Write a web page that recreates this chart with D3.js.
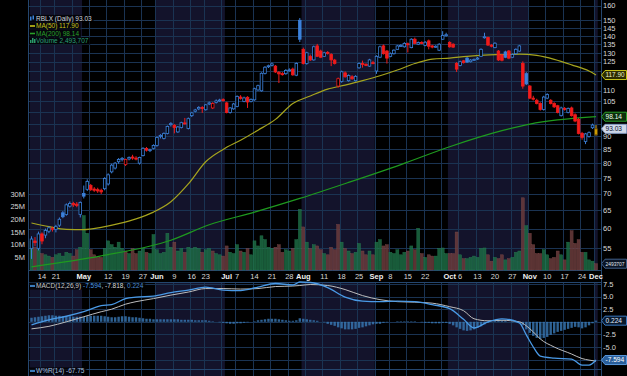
<!DOCTYPE html>
<html>
<head>
<meta charset="utf-8">
<script src="https://cdn.jsdelivr.net/npm/d3@7"></script>
<style>
  body { margin: 0; background: #000; }
  svg { display: block; }
  text { font-family: "Liberation Sans", Arial, sans-serif; }
</style>
</head>
<body>
<svg id="chart" width="627" height="376"></svg>
<script>
// ---- data (RBLX daily, 9 Apr 2025 .. 1 Dec 2025) ----
const firstDate = "2025-04-09"
const holidays = ["2025-04-18", "2025-05-26", "2025-06-19", "2025-07-04", "2025-09-01", "2025-11-27"]

const open = [55.0,56.8,55.0,58.6,58.3,59.3,59.8,59.8,60.9,64.3,63.8,66.2,67.0,66.8,63.8,70.0,71.3,72.5,71.4,71.2,
  71.0,71.5,73.0,77.0,78.3,80.5,81.3,79.5,81.5,82.2,81.8,80.0,82.7,85.3,84.6,85.4,86.5,90.0,89.2,91.2,
  94.8,94.5,91.8,93.6,95.5,93.2,98.6,100.5,101.6,102.2,101.2,103.8,102.0,104.5,105.3,105.8,104.3,100.0,101.6,102.7,
  107.0,105.0,106.9,105.0,105.7,110.4,110.0,118.7,122.3,123.0,122.6,119.2,118.6,118.6,120.3,121.0,117.8,150.0,132.0,124.0,
  128.0,126.0,134.0,131.0,128.0,130.2,129.0,125.9,112.3,114.6,119.0,115.0,117.0,115.0,121.7,124.0,123.5,122.6,124.5,120.0,
  127.5,134.0,131.0,128.0,129.5,132.0,134.0,133.5,135.3,133.0,138.0,135.0,136.0,134.3,137.0,134.0,133.3,131.5,138.0,140.2,
  136.0,135.0,124.0,123.0,125.5,127.0,125.0,126.0,126.5,128.0,139.0,139.0,134.5,133.0,131.0,128.8,130.5,131.0,127.5,129.5,
  131.0,124.0,118.6,112.3,106.5,105.5,104.0,101.3,106.5,105.5,104.0,103.0,98.6,101.8,100.0,102.0,99.0,97.0,91.2,88.0,
  90.0,93.5,90.6]
const high = [58.0,57.8,59.2,59.0,60.0,60.6,60.5,61.0,63.0,64.8,67.0,67.6,67.5,67.4,67.6,72.5,74.5,73.0,72.0,71.8,
  71.5,75.2,76.5,79.8,80.4,81.8,82.2,81.6,82.4,83.0,82.5,82.3,85.8,85.9,85.3,86.9,90.0,90.9,91.6,94.4,
  95.8,95.0,94.2,96.0,97.6,97.8,100.3,101.6,102.8,102.8,103.8,104.9,104.6,105.9,106.2,106.4,104.8,102.4,104.3,107.8,
  107.9,107.2,107.4,106.4,111.5,113.0,119.3,122.6,123.4,124.5,123.2,120.0,119.4,121.0,121.4,121.8,124.6,151.5,133.0,130.6,
  129.0,134.2,135.2,131.8,130.6,131.0,129.8,126.6,116.6,120.2,119.8,118.2,117.8,117.8,124.6,125.6,124.2,126.6,125.5,128.6,
  134.2,134.8,131.6,130.2,132.0,134.6,135.0,136.2,136.0,138.6,139.0,136.6,136.8,136.8,137.8,134.6,134.4,135.6,143.0,142.0,
  136.8,135.6,124.8,125.6,126.0,127.6,126.4,126.8,127.6,132.6,142.0,139.6,135.0,136.2,131.6,129.4,131.2,131.6,129.6,132.6,
  134.6,125.2,119.4,112.8,107.6,106.2,104.6,107.6,108.8,106.0,104.6,103.4,102.6,102.4,102.2,102.6,99.6,97.6,91.8,91.4,
  92.0,95.2,94.6]
const low = [52.5,55.5,54.5,56.0,57.5,58.8,59.2,59.0,60.4,62.8,63.5,65.8,66.0,65.9,63.0,68.5,70.8,70.8,70.5,70.2,
  69.8,71.0,72.5,76.5,77.8,79.8,80.6,79.0,81.0,81.2,81.0,79.5,82.4,84.2,84.0,85.0,86.0,89.2,88.8,90.8,
  94.0,91.2,91.4,93.2,94.8,92.8,98.0,100.0,101.0,99.8,100.8,103.3,101.5,104.0,104.8,104.9,99.6,99.5,101.2,102.3,
  105.8,104.6,102.0,104.5,105.3,110.0,109.6,118.2,121.6,122.4,119.0,113.8,117.6,118.0,119.8,117.5,117.3,136.3,123.5,123.4,
  125.4,125.6,127.6,127.0,127.6,129.0,122.6,123.5,111.5,114.0,116.5,114.5,115.4,114.6,121.2,121.8,122.6,122.2,123.6,118.5,
  127.0,129.0,124.0,127.5,129.0,131.6,133.4,133.0,130.2,132.6,135.0,134.5,135.0,133.8,132.0,132.6,132.8,131.0,137.5,139.6,
  133.0,132.8,119.5,122.5,124.0,124.4,124.6,125.5,126.0,127.6,138.4,134.0,133.2,132.6,125.4,125.2,127.0,126.4,127.0,129.0,
  130.6,111.0,112.8,106.0,105.4,103.6,100.8,100.8,106.0,103.6,102.0,99.6,98.2,100.8,99.6,98.2,95.8,90.8,88.7,87.0,
  89.5,93.0,90.3]
const close = [57.3,56.4,58.6,56.8,59.5,60.2,60.0,60.5,62.5,63.2,66.6,67.0,66.6,66.4,67.3,69.2,73.8,71.2,71.0,70.8,
  70.5,74.8,76.0,79.3,80.0,81.3,81.7,81.3,82.0,81.8,81.6,82.0,85.4,84.7,84.9,86.5,89.6,90.4,91.2,94.0,
  95.2,93.6,93.8,95.6,95.2,97.3,99.8,101.1,102.2,101.8,103.4,104.3,104.0,105.2,105.6,105.3,100.0,102.0,103.8,107.3,
  106.4,106.6,104.7,105.9,111.0,112.5,118.8,122.0,122.8,123.8,119.5,118.5,118.3,120.3,120.6,118.0,124.0,138.0,124.0,130.0,
  126.0,133.5,128.0,127.5,130.0,129.7,126.0,124.0,116.0,119.6,117.0,117.6,116.0,117.2,124.0,123.5,123.2,126.0,124.0,128.0,
  133.5,129.5,127.0,129.5,131.5,134.0,134.3,135.5,134.7,138.0,135.5,136.0,135.5,136.2,133.8,133.3,133.8,135.0,140.3,140.8,
  133.5,133.3,121.0,125.0,124.5,124.8,125.9,126.3,127.0,132.0,139.5,134.5,133.8,135.6,126.0,125.8,127.5,127.0,129.0,132.0,
  134.0,112.3,113.4,106.5,106.0,104.0,101.3,107.0,108.2,104.0,102.5,100.0,102.0,101.5,101.8,98.6,96.3,91.2,89.6,91.0,
  91.5,94.6,93.03]
// volume, millions of shares
const volume = [11.5,9.0,8.0,6.5,6.0,5.5,5.0,6.0,6.5,5.5,7.0,6.5,5.5,8.0,9.0,21.5,14.5,8.0,6.0,5.0,
  5.0,8.5,11.5,10.0,9.0,11.0,8.5,7.5,6.5,8.5,6.5,7.5,8.5,7.0,6.5,14.0,8.0,6.5,7.0,14.5,
  9.0,11.0,7.5,8.5,7.0,9.0,8.5,9.0,8.5,7.0,8.0,8.5,7.5,6.5,6.0,5.5,9.5,7.0,6.5,10.0,
  7.5,7.0,8.5,6.0,11.5,9.5,13.5,12.0,9.0,8.5,9.0,10.0,7.0,8.0,7.5,8.5,12.0,24.0,17.0,11.0,
  8.5,10.0,9.5,8.0,6.5,6.0,9.0,8.0,18.0,11.0,8.5,7.5,6.5,7.0,10.5,7.5,6.0,7.5,6.0,11.0,
  12.0,9.5,10.0,7.0,6.5,8.0,6.0,7.0,7.5,9.5,8.0,16.5,6.5,5.0,6.0,5.5,5.5,8.5,8.7,6.5,
  6.5,6.5,15.0,6.0,4.5,4.5,5.0,5.5,5.0,8.5,8.7,6.0,3.5,5.0,4.5,6.0,4.0,4.5,5.0,7.0,
  7.5,28.5,17.5,14.5,10.0,6.5,6.5,8.0,6.0,4.5,5.0,7.5,6.0,4.0,11.0,15.5,10.5,12.0,7.0,7.0,
  4.0,3.5,2.49]

// moving averages, read at sample bars
const ma50Bars = [0,5,10,15,20,25,30,35,40,45,50,55,60,65,70,75,80,85,90,95,100,105,110,115,120,125,130,135,140,145,150,155,160,162]
const ma50 = [61.5,60.5,59.8,59.7,60.3,61.3,62.6,64.5,67.5,73.0,80.5,85.0,88.5,92.5,97.0,104.0,107.5,110.8,112.8,115.0,117.5,120.5,124.0,126.4,127.0,128.0,128.7,129.0,129.3,128.5,126.3,123.3,120.0,117.9]
const ma200Bars = [0,20,40,51,64,77,91,106,120,135,143,162]
const ma200 = [50.7,53.2,57.0,61.0,64.5,68.5,73.5,79.5,86.0,92.3,95.0,98.14]

// MACD(12,26,9)
const macdBars = [0,5,10,15,20,23,27,30,35,40,45,50,55,60,65,70,75,77,80,85,90,95,100,105,110,115,120,124,127,131,135,140,142,144,146,150,155,158,160,162]
const macdLine = [-0.6,0.4,1.1,2.0,3.2,3.4,4.6,4.9,5.1,5.8,6.3,6.9,6.3,6.2,6.9,7.6,7.3,7.9,7.8,6.8,4.9,4.1,4.0,4.1,4.0,3.4,2.6,0.5,-1.2,0.0,0.6,-0.2,-2.6,-5.0,-6.8,-7.2,-7.4,-8.6,-8.6,-7.594]
const signalLine = [-1.4,-0.9,0.0,1.0,2.0,2.5,3.5,4.0,4.6,5.3,5.9,6.6,6.6,6.5,6.6,7.0,7.1,7.2,7.4,7.2,6.4,5.2,4.4,4.0,3.9,3.7,3.0,2.2,0.6,0.2,0.3,0.0,-0.8,-2.0,-3.4,-5.0,-6.4,-7.3,-7.6,-7.818]
const macdHist = [0.8,0.9,1.0,1.1,1.2,1.3,1.3,1.2,1.2,1.1, 1.1,1.1,1.0,1.0,1.0,1.0,1.1,1.2,1.2,1.2,
  1.2,1.1,1.0,0.9,0.9,1.0,1.1,1.1,1.0,0.9, 0.9,0.8,0.7,0.6,0.6,0.5,0.5,0.5,0.5,0.5,
  0.5,0.5,0.5,0.4,0.4,0.4,0.4,0.3,0.3,0.3, 0.3,0.2,0.1,0.0,-0.1,-0.2,-0.3,-0.4,-0.4,-0.3,
  -0.3,-0.2,-0.1,0.0,0.1,0.3,0.4,0.5,0.6,0.6, 0.6,0.5,0.4,0.3,0.2,0.2,0.3,0.7,0.6,0.5,
  0.4,0.3,0.2,0.0,-0.1,-0.4,-0.6,-0.8,-1.1,-1.3, -1.5,-1.5,-1.5,-1.4,-1.2,-1.1,-0.9,-0.7,-0.5,-0.4,
  -0.4,-0.2,-0.1,0.0,0.0,0.1,0.1,0.1,0.1,0.1, 0.1,0.0,-0.1,-0.2,-0.2,-0.3,-0.3,-0.3,-0.2,-0.2,
  -0.4,-0.7,-1.1,-1.4,-1.7,-1.8,-1.7,-1.5,-1.2,-0.9, -0.5,-0.2,0.0,0.2,0.3,0.3,0.2,0.0,-0.1,-0.1,
  -0.2,-0.7,-1.5,-2.2,-2.8,-3.2,-3.4,-3.2,-3.0,-2.6, -2.3,-2.0,-1.8,-1.6,-1.4,-1.2,-1.0,-1.1,-1.3,-1.1,
  -0.7,-0.3,0.224]

const priceTicks = [55,60,65,70,75,80,85,90,95,100,105,110,115,120,125,130,135,140,145,150,160]
const volumeTicks = [5,10,15,20,25,30]
const macdTicks = [7.5,5.0,2.5,0,-2.5,-5.0,-7.5]
const monthNames = ["Jan","Feb","Mar","Apr","May","Jun","Jul","Aug","Sep","Oct","Nov","Dec"]

// ---- trading calendar ----
const dates = []
for (let d = new Date(firstDate + "T12:00:00Z"); dates.length < close.length; d.setUTCDate(d.getUTCDate() + 1)) {
  const wd = d.getUTCDay()
  if (wd === 0 || wd === 6 || holidays.includes(d.toISOString().slice(0, 10))) continue
  dates.push(new Date(d))
}

// ---- layout ----
const W = 627, L = 28, R = 601
const mainTop = 0, mainBottom = 270, axisBottom = 282, macdBottom = 369

const svg = d3.select("#chart")
const x = d3.scaleLinear().domain([0, close.length - 1]).range([31.5, 596])
const step = x(1) - x(0)
const y = d3.scaleLog().domain([50, 164]).range([mainBottom, mainTop])
const yVol = d3.scaleLinear().domain([0, 30]).range([mainBottom, 194])
const yMacd = d3.scaleLinear().domain([-9.37, 7.9]).range([macdBottom, axisBottom])

const gridColor = "#1a3352"
const blue = "#3c82dc", red = "#f21b1b"

svg.append("rect").attr("width", W).attr("height", 376).attr("fill", "#000")

// month bands (every other month shaded)
const monthStarts = dates.map((d, i) => i).filter(i => i > 0 && dates[i].getUTCMonth() !== dates[i - 1].getUTCMonth())
const bandEdges = [0, ...monthStarts, close.length]
bandEdges.slice(0, -1).forEach((s, k) => {
  if (dates[s].getUTCMonth() % 2 === 0) return
  const x0 = Math.max(L, x(s) - step / 2), x1 = Math.min(R, x(bandEdges[k + 1]) - step / 2)
  ;[[mainTop, mainBottom], [axisBottom, 376]].forEach(([t, b]) =>
    svg.append("rect").attr("x", x0).attr("y", t).attr("width", x1 - x0).attr("height", b - t).attr("fill", "#13132b"))
})

// week starts
const weekStarts = dates.map((d, i) => i).filter(i => i > 0 && dates[i].getUTCDay() <= dates[i - 1].getUTCDay())

// grid
const grid = svg.append("g").attr("stroke", gridColor).attr("stroke-width", 1)
weekStarts.forEach(i => {
  const gx = Math.round(x(i) - step / 2) + 0.5
  grid.append("line").attr("x1", gx).attr("x2", gx).attr("y1", mainTop).attr("y2", mainBottom)
  grid.append("line").attr("x1", gx).attr("x2", gx).attr("y1", axisBottom).attr("y2", 376)
})
priceTicks.forEach(p => {
  const gy = Math.round(y(p)) + 0.5
  grid.append("line").attr("x1", L).attr("x2", R).attr("y1", gy).attr("y2", gy)
})
macdTicks.forEach(v => {
  const gy = Math.round(yMacd(v)) + 0.5
  grid.append("line").attr("x1", L).attr("x2", R).attr("y1", gy).attr("y2", gy)
})
;[mainBottom, axisBottom, macdBottom].forEach(v =>
  grid.append("line").attr("x1", L).attr("x2", R).attr("y1", v + 0.5).attr("y2", v + 0.5).attr("stroke", "#24466e"))
grid.append("line").attr("x1", L + 0.5).attr("x2", L + 0.5).attr("y1", 0).attr("y2", 376).attr("stroke", "#24466e")
grid.append("line").attr("x1", R + 0.5).attr("x2", R + 0.5).attr("y1", 0).attr("y2", 376).attr("stroke", "#24466e")

const isUp = i => i === 0 ? true : close[i] >= close[i - 1]

// volume bars
svg.append("g").selectAll("rect").data(volume).join("rect")
  .attr("x", (d, i) => x(i) - 1.5)
  .attr("width", 3)
  .attr("y", d => yVol(d))
  .attr("height", d => mainBottom - yVol(d))
  .attr("fill", (d, i) => isUp(i) ? "#1d6b44" : "#6a3c3c")
  .attr("stroke", (d, i) => isUp(i) ? "#2a8a5a" : "#8a5050")
  .attr("stroke-width", 0.4)
  .attr("opacity", 0.85)

// moving averages
const maLine = d3.line().x(d => x(d[0])).y(d => y(d[1])).curve(d3.curveMonotoneX)
svg.append("path").attr("d", maLine(ma200Bars.map((b, k) => [b, ma200[k]])))
  .attr("fill", "none").attr("stroke", "#1f9a1f").attr("stroke-width", 1.2)
svg.append("path").attr("d", maLine(ma50Bars.map((b, k) => [b, ma50[k]])))
  .attr("fill", "none").attr("stroke", "#a6a41e").attr("stroke-width", 1.2)

// candles
const candles = svg.append("g")
close.forEach((c, i) => {
  const o = open[i], last = i === close.length - 1
  const col = last ? "#d8a400" : (isUp(i) ? blue : red)
  const cx = x(i)
  const top = y(Math.max(o, c)), bot = y(Math.min(o, c))
  const hollow = c > o && !last
  candles.append("line").attr("x1", cx).attr("x2", cx).attr("y1", y(high[i])).attr("y2", top)
    .attr("stroke", col).attr("stroke-width", 1)
  candles.append("line").attr("x1", cx).attr("x2", cx).attr("y1", bot).attr("y2", y(low[i]))
    .attr("stroke", col).attr("stroke-width", 1)
  candles.append("rect").attr("x", cx - 1.3).attr("width", 2.6)
    .attr("y", top).attr("height", Math.max(1, bot - top))
    .attr("fill", hollow ? "#000" : col)
    .attr("stroke", last ? "#6a4a00" : col).attr("stroke-width", 0.8)
})

// MACD panel
svg.append("g").selectAll("rect").data(macdHist).join("rect")
  .attr("x", (d, i) => x(i) - 1.2)
  .attr("width", 2.4)
  .attr("y", d => Math.min(yMacd(d), yMacd(0)))
  .attr("height", d => Math.abs(yMacd(d) - yMacd(0)))
  .attr("fill", "#3a7ab8").attr("opacity", 0.8)
const mLine = d3.line().x(d => x(d[0])).y(d => yMacd(d[1])).curve(d3.curveMonotoneX)
svg.append("path").attr("d", mLine(macdBars.map((b, k) => [b, signalLine[k]])))
  .attr("fill", "none").attr("stroke", "#bdbdbd").attr("stroke-width", 1)
svg.append("path").attr("d", mLine(macdBars.map((b, k) => [b, macdLine[k]])))
  .attr("fill", "none").attr("stroke", "#4a9ae6").attr("stroke-width", 1.3)

// date axis
const axisG = svg.append("g").attr("font-size", 7.5).attr("text-anchor", "middle")
const taken = []
monthStarts.forEach(i => {
  const t = axisG.append("text").attr("x", x(i)).attr("y", 279).attr("fill", "#f0f0f0")
    .attr("font-weight", "bold").text(monthNames[dates[i].getUTCMonth()])
  const w = t.node().getComputedTextLength()
  taken.push([x(i) - w / 2, x(i) + w / 2])
})
;[0, ...weekStarts].filter(i => !monthStarts.includes(i)).forEach(i => {
  const label = String(dates[i].getUTCDate())
  const t = axisG.append("text").attr("x", x(i)).attr("y", 279).attr("fill", "#d8d8d8").text(label)
  const w = t.node().getComputedTextLength()
  const a = x(i) - w / 2, b = x(i) + w / 2
  if (i === 0 || taken.some(([p, q]) => b + 2 > p && a - 2 < q)) t.remove()
})

// value tags on the right axis (drawn over the tick labels they cover)
const tags = [
  [y(ma50[ma50.length - 1]), "117.90", "#2c2c00", "#c8c41a", "#f0f0d0"],
  [y(ma200[ma200.length - 1]), "98.14", "#0c300c", "#2aa02a", "#f0fff0"],
  [y(close[close.length - 1]), "93.03", "#cfd8e8", "#8098c0", "#0a1030"],
  [yVol(volume[volume.length - 1]), "2493707", "#0a1424", "#40608a", "#e0e8f0"],
  [yMacd(macdHist[macdHist.length - 1]), "0.224", "#08182c", "#3a78c0", "#e0ecff"],
  [yMacd(macdLine[macdLine.length - 1]), "-7.594", "#2a5e9a", "#5a9ae0", "#ffffff"]
]
const freeOfTags = yy => tags.every(t => Math.abs(t[0] - yy) >= 7.2)

// right price axis
const right = svg.append("g").attr("font-size", 7.5).attr("fill", "#d8d8d8")
priceTicks.filter(p => freeOfTags(y(p))).forEach(p =>
  right.append("text").attr("x", 603).attr("y", y(p) + 2.7).text(p))
macdTicks.filter(v => freeOfTags(yMacd(v))).forEach(v =>
  right.append("text").attr("x", 603).attr("y", yMacd(v) + 2.7).text(v.toFixed(1)))

// left volume axis
volumeTicks.forEach(v => svg.append("text").attr("x", 25).attr("y", yVol(v) + 2.7)
  .attr("text-anchor", "end").attr("font-size", 7.5).attr("fill", "#d8d8d8").text(v + "M"))

tags.forEach(([yy, label, fill, stroke, color]) => {
  svg.append("path")
    .attr("d", `M${R + 0.5},${yy} L${R + 4},${yy - 4.5} L${W - 0.5},${yy - 4.5} L${W - 0.5},${yy + 4.5} L${R + 4},${yy + 4.5} Z`)
    .attr("fill", fill).attr("stroke", stroke).attr("stroke-width", 1)
  const t = svg.append("text").attr("x", R + 4.5).attr("y", yy + 2.4).attr("font-size", 6.6).attr("fill", color).text(label)
  const w = t.node().getComputedTextLength()
  if (w > 19) t.attr("font-size", 6.6 * 19 / w)
})

// legends
function legend(yy, icon, parts) {
  const g = svg.append("g")
  const t = g.append("text").attr("x", 36).attr("y", yy + 2.3).attr("font-size", 6.5)
  parts.forEach(([s, c]) => t.append("tspan").attr("fill", c).text(s))
  const w = t.node().getComputedTextLength()
  g.insert("rect", "text").attr("x", 29).attr("y", yy - 3.6).attr("width", w + 9).attr("height", 7.2)
    .attr("fill", "#000").attr("opacity", 0.75)
  icon(g, yy)
}
const lineIcon = c => (g, yy) => g.append("rect").attr("x", 30).attr("y", yy - 0.8).attr("width", 5).attr("height", 1.6).attr("fill", c)
legend(18.5, (g, yy) => {
  g.append("rect").attr("x", 30).attr("y", yy - 2).attr("width", 1.5).attr("height", 4).attr("fill", blue)
  g.append("rect").attr("x", 32.5).attr("y", yy - 3).attr("width", 1.5).attr("height", 4).attr("fill", blue)
}, [["RBLX (Daily) 93.03", "#d0d4dc"]])
legend(26, lineIcon("#c8c41a"), [["MA(50) 117.90", "#c8c41a"]])
legend(33.5, lineIcon("#2aa02a"), [["MA(200) 98.14", "#2aa02a"]])
legend(41, (g, yy) => {
  g.append("rect").attr("x", 30).attr("y", yy - 1).attr("width", 1.5).attr("height", 3).attr("fill", "#2a9a6a")
  g.append("rect").attr("x", 32).attr("y", yy - 3).attr("width", 1.5).attr("height", 5).attr("fill", "#2a9a6a")
  g.append("rect").attr("x", 34).attr("y", yy - 2).attr("width", 1.5).attr("height", 4).attr("fill", "#2a9a6a")
}, [["Volume 2,493,707", "#2aa078"]])
legend(286, lineIcon("#4a9ae6"), [["MACD(12,26,9) ", "#c8c8c8"], ["-7.594", "#4a9ae6"], [", -7.818, ", "#d8d8d8"], ["0.224", "#4a8ad0"]])
legend(371, lineIcon("#4a9ae6"), [["W%R(14) -67.75", "#a8c0e0"]])
</script>
</body>
</html>
